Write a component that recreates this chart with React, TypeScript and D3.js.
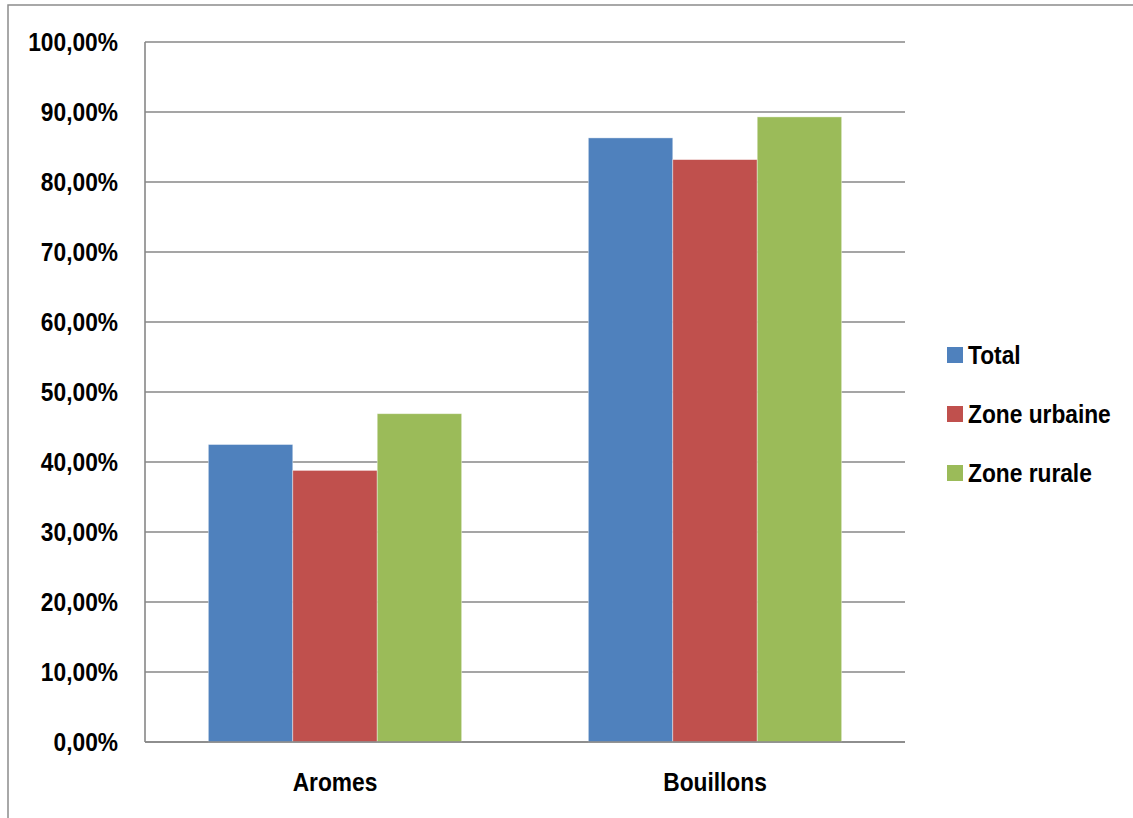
import React from "react";
import * as d3 from "d3";

const categories = ["Aromes", "Bouillons"];
const seriesNames = ["Total", "Zone urbaine", "Zone rurale"];
const seriesColors = ["#4F81BD", "#C0504D", "#9BBB59"];
const totalValues = [42.5, 86.3];
const urbainValues = [38.8, 83.2];
const ruralValues = [46.9, 89.3];
const yTicks = [0, 10, 20, 30, 40, 50, 60, 70, 80, 90, 100];

const W = 1133;
const H = 818;
const plot = { left: 145, right: 905, top: 42, bottom: 742 };
const FONT = "'Liberation Sans', Arial, sans-serif";
const SX = 0.91; // horizontal condensing of label text

function Label(props: { x: number; y: number; anchor?: string; dy?: string; children: string }) {
  return (
    <g transform={`translate(${props.x},${props.y}) scale(${SX},1)`}>
      <text
        x={0}
        y={0}
        dy={props.dy}
        textAnchor={props.anchor || "start"}
        fontFamily={FONT}
        fontWeight="bold"
        fontSize={25}
        fill="#000"
      >
        {props.children}
      </text>
    </g>
  );
}

export default function App() {
  const series = [totalValues, urbainValues, ruralValues];
  const y = d3.scaleLinear().domain([0, 100]).range([plot.bottom, plot.top]);
  const x0 = d3
    .scaleBand<string>()
    .domain(categories)
    .range([plot.left, plot.right])
    .paddingInner(0)
    .paddingOuter(0);
  const groupW = x0.bandwidth();
  // three bars take 3 units, gap between groups 1.5 units
  const barW = groupW / 4.5;
  const x1 = d3
    .scaleBand<string>()
    .domain(seriesNames)
    .range([0, barW * 3]);
  const fmt = (v: number) => v.toFixed(2).replace(".", ",") + "%";

  return (
    <svg
      width={W}
      height={H}
      style={{ position: "absolute", left: 0, top: 0, background: "#fff" }}
    >
      <rect x={8} y={5} width={W + 20} height={H + 20} fill="#fff" stroke="#8c8c8c" strokeWidth={1.5} />
      {yTicks.map((t) => (
        <g key={t}>
          <line
            x1={plot.left}
            x2={plot.right}
            y1={y(t)}
            y2={y(t)}
            stroke="#878787"
            strokeWidth={1.6}
          />
          <Label x={118} y={y(t)} dy="0.36em" anchor="end">
            {fmt(t)}
          </Label>
        </g>
      ))}
      {categories.map((c, ci) =>
        series.map((vals, si) => {
          const bx = (x0(c) as number) + (groupW - barW * 3) / 2 + (x1(seriesNames[si]) as number);
          return (
            <rect
              key={c + si}
              x={bx}
              y={y(vals[ci])}
              width={x1.bandwidth()}
              height={y(0) - y(vals[ci])}
              fill={seriesColors[si]}
              stroke="rgba(255,255,255,0.5)"
              strokeWidth={0.8}
            />
          );
        })
      )}
      <line x1={plot.left} x2={plot.left} y1={plot.top} y2={plot.bottom} stroke="#878787" strokeWidth={1.6} />
      <line x1={plot.left} x2={plot.right} y1={plot.bottom} y2={plot.bottom} stroke="#878787" strokeWidth={1.6} />
      {categories.map((c) => (
        <Label key={c} x={(x0(c) as number) + groupW / 2} y={791} anchor="middle">
          {c}
        </Label>
      ))}
      {seriesNames.map((s, i) => (
        <g key={s} transform={`translate(947, ${347 + i * 59})`}>
          <rect width={16} height={16} fill={seriesColors[i]} />
          <Label x={21} y={17}>
            {s}
          </Label>
        </g>
      ))}
    </svg>
  );
}
